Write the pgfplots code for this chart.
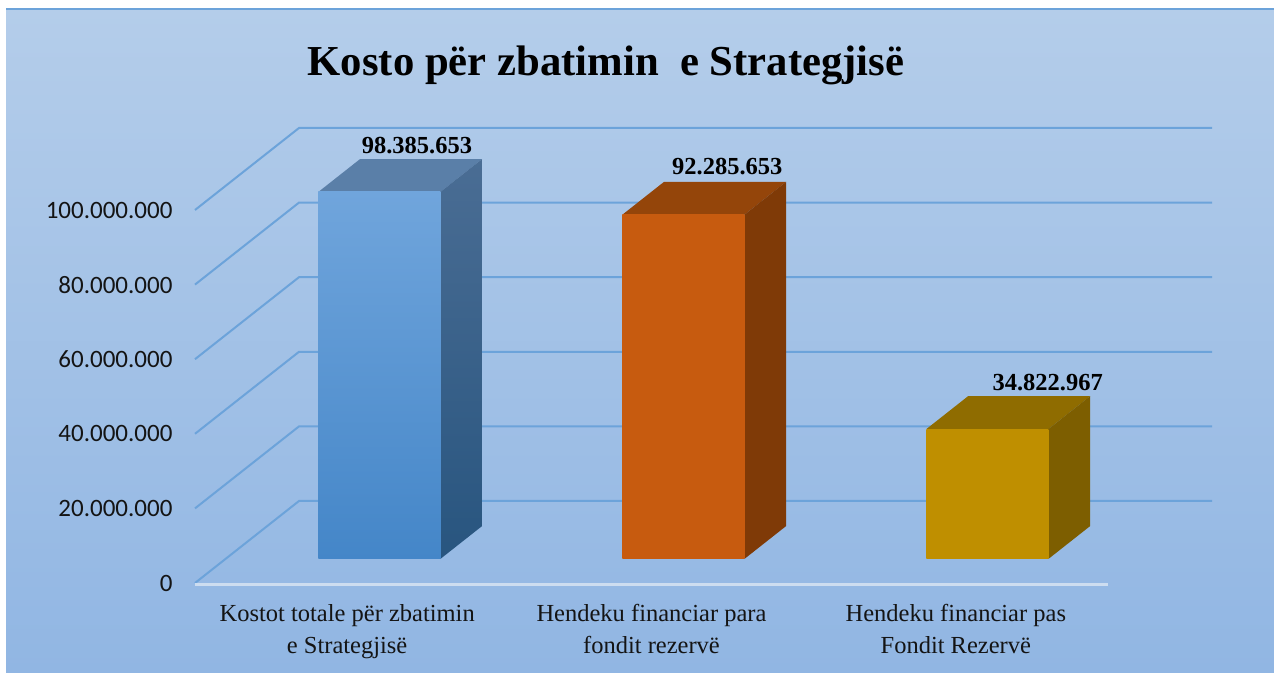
\documentclass[border=0pt]{standalone}
\usepackage{fontspec}
\setmainfont{Liberation Serif}
\newfontfamily\tickfont{Carlito}
\usepackage{pgfplots}
\pgfplotsset{compat=1.18}

\definecolor{bgtop}{RGB}{180,205,234}
\definecolor{bgbot}{RGB}{145,182,227}
\definecolor{gridc}{RGB}{108,163,218}
\definecolor{floorc}{RGB}{205,221,240}
\definecolor{labc}{RGB}{20,20,20}
\definecolor{aft}{RGB}{112,165,220}
\definecolor{afb}{RGB}{68,134,200}
\definecolor{ar}{RGB}{90,127,168}
\definecolor{ast}{RGB}{74,109,148}
\definecolor{asb}{RGB}{40,85,127}
\definecolor{bf}{RGB}{199,91,15}
\definecolor{br}{RGB}{148,69,10}
\definecolor{bs}{RGB}{127,58,7}
\definecolor{cf}{RGB}{191,143,0}
\definecolor{cr}{RGB}{143,108,0}
\definecolor{cs}{RGB}{125,94,0}

% x0 x1 value front-top front-bottom roof side-top side-bottom
\newcommand{\cube}[8]{
  \addplot3[draw=none,fill=#6] coordinates {(#1,0.293,#3) (#2,0.293,#3) (#2,0.695,#3) (#1,0.695,#3)} --cycle;
  \addplot3[draw=none,top color=#7,bottom color=#8] coordinates {(#2,0.293,0) (#2,0.695,0) (#2,0.695,#3) (#2,0.293,#3)} --cycle;
  \addplot3[draw=none,top color=#4,bottom color=#5] coordinates {(#1,0.293,0) (#2,0.293,0) (#2,0.293,#3) (#1,0.293,#3)} --cycle;
}

\begin{document}
\begin{tikzpicture}[x=1pt,y=1pt]
\path[use as bounding box] (0,0) rectangle (1274,672);
\fill[white] (0,0) rectangle (1274,672);
\shade[top color=bgtop,bottom color=bgbot] (6,0) rectangle (1274,663);
\draw[gridc,line width=1.2pt] (6,663) -- (1274,663);
\node[font=\fontsize{42.7}{48}\selectfont\bfseries,text=black] at (606,607) {Kosto për zbatimin\ \ e Strategjisë};
\begin{axis}[
    at={(195pt,89pt)},
    anchor=origin,
    x={(304.33pt,0pt)},
    y={(104pt,82pt)},
    z={(0pt,3.73pt)},
    xmin=0, xmax=3,
    ymin=0, ymax=1,
    zmin=0, zmax=100,
    clip=false,
    axis line style={draw=none},
    major tick length=0pt,
    xtick={0.5,1.5,2.5},
    xticklabels={Kostot totale për zbatimin\\e Strategjisë,
      Hendeku financiar para\\fondit rezervë,
      Hendeku financiar pas\\Fondit Rezervë},
    xticklabel style={align=center,anchor=north,text=labc,yshift=-18pt,
      font=\fontsize{24.5}{32}\selectfont},
    ytick=\empty,
    ztick={0,20,40,60,80,100},
    zticklabels={0,20.000.000,40.000.000,60.000.000,80.000.000,100.000.000},
    zticklabel style={anchor=east,text=labc,xshift=-19pt,font=\tickfont\fontsize{25}{28}\selectfont},
]
% walls
\addplot3[gridc,line width=2pt] coordinates {(0,0,0) (0,1,0) (3,1,0)};
\addplot3[gridc,line width=2pt] coordinates {(0,0,20) (0,1,20) (3,1,20)};
\addplot3[gridc,line width=2pt] coordinates {(0,0,40) (0,1,40) (3,1,40)};
\addplot3[gridc,line width=2pt] coordinates {(0,0,60) (0,1,60) (3,1,60)};
\addplot3[gridc,line width=2pt] coordinates {(0,0,80) (0,1,80) (3,1,80)};
\addplot3[gridc,line width=2pt] coordinates {(0,0,100) (0,1,100) (3,1,100)};
\addplot3[floorc,line width=2.2pt,yshift=-1.5pt] coordinates {(0,0,0) (3,0,0)};
% bars
\cube{0.305}{0.706}{98.385653}{aft}{afb}{ar}{ast}{asb}
\cube{1.304}{1.705}{92.285653}{bf}{bf}{br}{bs}{bs}
\cube{2.303}{2.704}{34.822967}{cf}{cf}{cr}{cs}{cs}
% value labels
\node[anchor=south,font=\fontsize{24.5}{28}\selectfont\bfseries,xshift=-4pt,yshift=1.5pt] at (axis cs:0.505,0.695,98.385653) {98.385.653};
\node[anchor=south,font=\fontsize{24.5}{28}\selectfont\bfseries,xshift=2pt,yshift=3pt] at (axis cs:1.505,0.695,92.285653) {92.285.653};
\node[anchor=south,font=\fontsize{24.5}{28}\selectfont\bfseries,xshift=18pt,yshift=2pt] at (axis cs:2.505,0.695,34.822967) {34.822.967};
\end{axis}
\end{tikzpicture}
\end{document}
